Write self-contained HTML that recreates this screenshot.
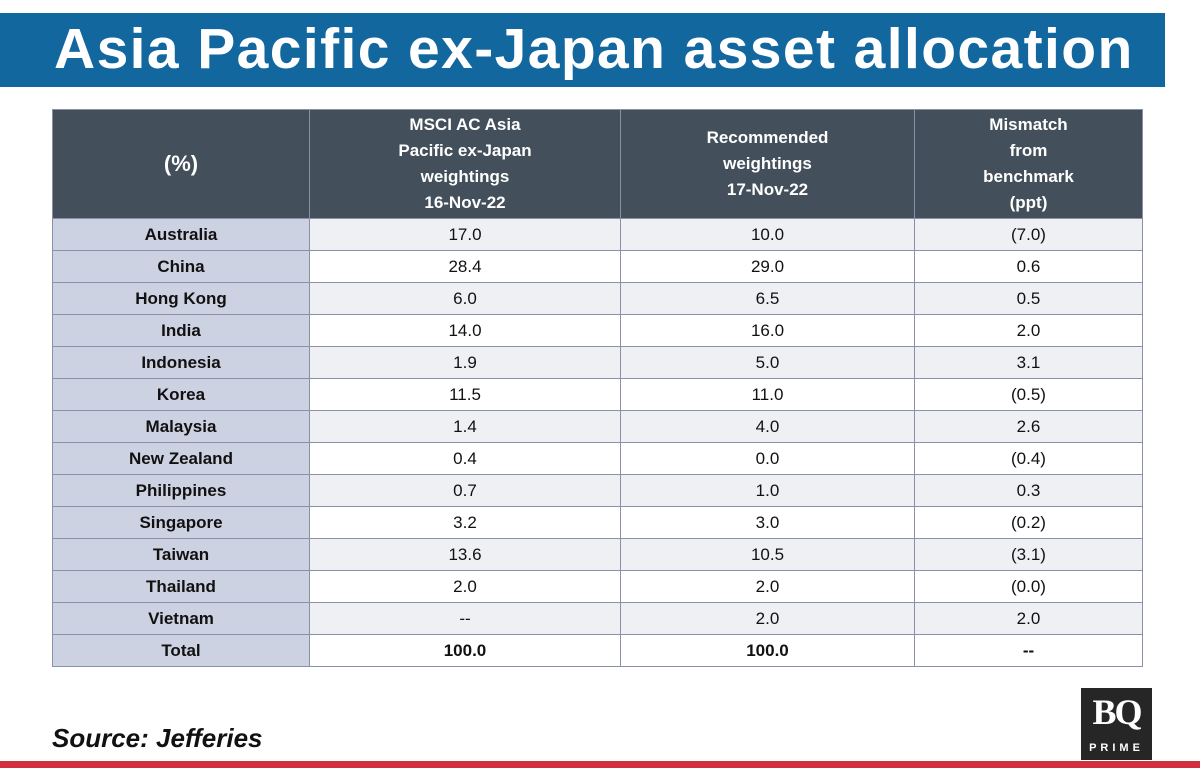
<!DOCTYPE html>
<html><head><meta charset="utf-8"><style>
body{margin:0;width:1200px;height:768px;background:#fff;position:relative;overflow:hidden;font-family:"Liberation Sans",sans-serif}
#banner{position:absolute;left:0;top:13px;width:1165px;height:74px;background:#12679f}
#title{position:absolute;left:54px;top:13px;height:74px;line-height:72px;color:#fff;font-weight:bold;font-size:57px;white-space:nowrap;letter-spacing:1.4px}
table{position:absolute;left:52px;top:109px;border-collapse:collapse;font-size:17px;color:#111}
th{background:#434f5a;color:#fff;font-weight:bold;height:108px;padding:0;line-height:26px;border:1px solid #8a90a8}
td{height:31px;padding:0;text-align:center;border:1px solid #8a90a8}
td.c{background:#cdd2e2;font-weight:bold}
tr:nth-child(odd) td.v{background:#eef0f4}
tr:nth-child(even) td.v{background:#fff}
#source{position:absolute;left:52px;top:723px;font-size:26px;font-weight:bold;font-style:italic;color:#111}
#logo{position:absolute;left:1081px;top:688px;width:71px;height:72px;background:#262626;color:#fff;text-align:center}
#red{position:absolute;left:0;top:761px;width:1200px;height:7px;background:#d12e3f}
</style></head><body>
<div id="banner"></div>
<div id="title">Asia Pacific ex-Japan asset allocation</div>
<table>
<thead><tr>
<th style="width:256px;font-size:22px">(%)</th>
<th style="width:310px">MSCI AC Asia<br>Pacific ex-Japan<br>weightings<br>16-Nov-22</th>
<th style="width:293px">Recommended<br>weightings<br>17-Nov-22</th>
<th style="width:227px">Mismatch<br>from<br>benchmark<br>(ppt)</th>
</tr></thead>
<tbody id="tb"></tbody>
</table>
<div id="source">Source: Jefferies</div>
<div id="logo"><div style="font-family:'Liberation Serif',serif;font-weight:bold;font-size:36px;line-height:40px;margin-top:4px;letter-spacing:-2px">BQ</div><div style="font-size:11px;letter-spacing:4px;margin-top:10px;font-weight:bold">PRIME</div></div>
<div id="red"></div>
<script>
const countries=["Australia","China","Hong Kong","India","Indonesia","Korea","Malaysia","New Zealand","Philippines","Singapore","Taiwan","Thailand","Vietnam","Total"];
const msci=["17.0","28.4","6.0","14.0","1.9","11.5","1.4","0.4","0.7","3.2","13.6","2.0","--","100.0"];
const recommended=["10.0","29.0","6.5","16.0","5.0","11.0","4.0","0.0","1.0","3.0","10.5","2.0","2.0","100.0"];
const mismatch=["(7.0)","0.6","0.5","2.0","3.1","(0.5)","2.6","(0.4)","0.3","(0.2)","(3.1)","(0.0)","2.0","--"];
const tb=document.getElementById('tb');
countries.forEach((c,i)=>{
  const tr=document.createElement('tr');
  
  
  [c,msci[i],recommended[i],mismatch[i]].forEach((v,j)=>{
    const td=document.createElement('td');
    td.textContent=v;
    td.className=j===0?'c':'v';
    if(i===countries.length-1&&j>0)td.style.fontWeight='bold';
    
    
    tr.appendChild(td);
  });
  tb.appendChild(tr);
});
</script>
</body></html>
